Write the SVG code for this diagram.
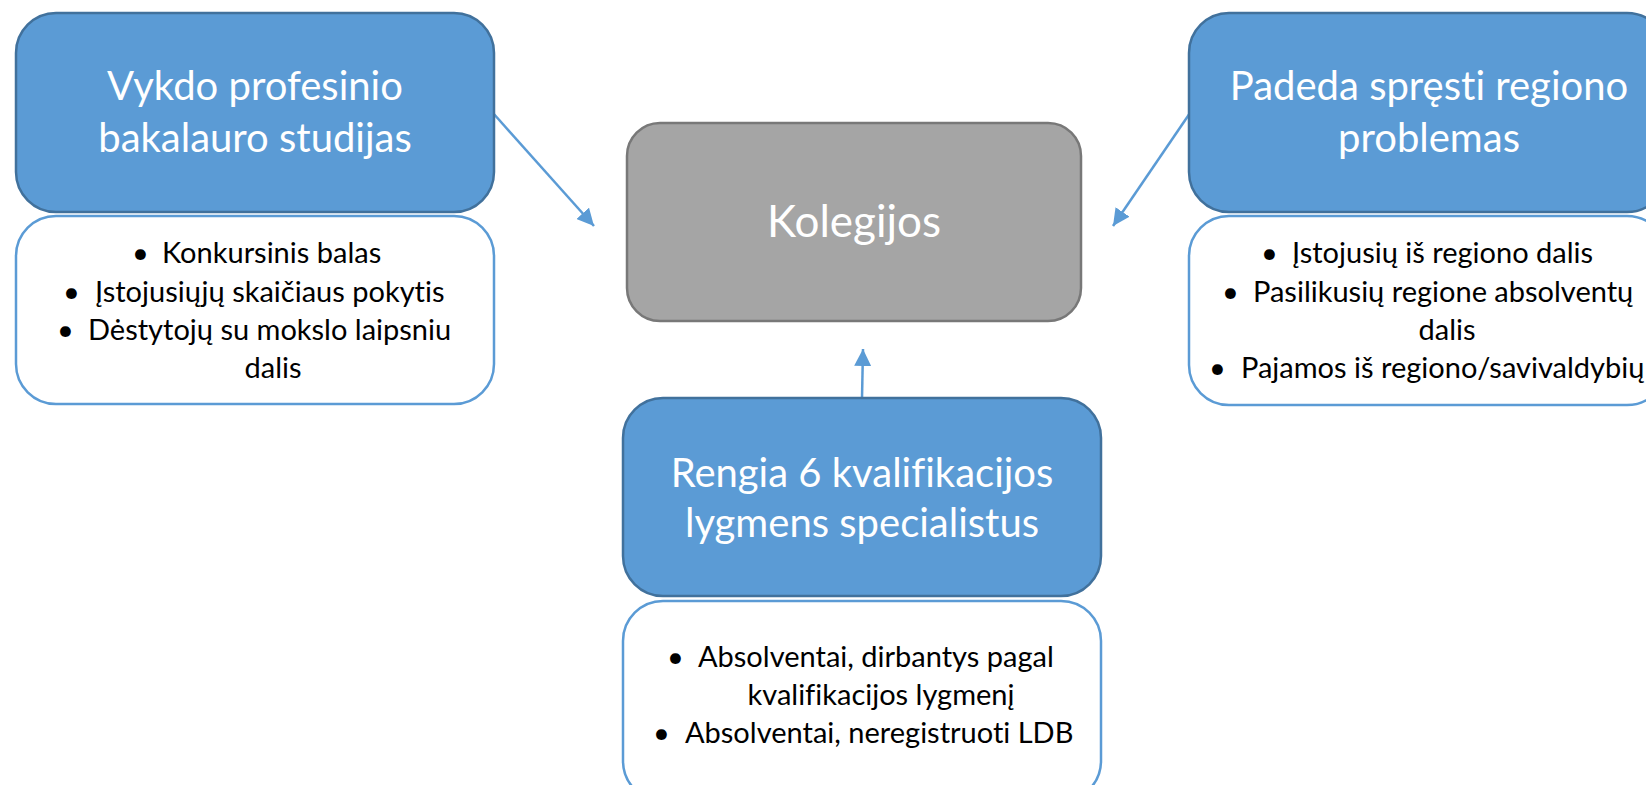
<svg xmlns="http://www.w3.org/2000/svg" width="1646" height="785" viewBox="0 0 1646 785">
<defs>
<style>
text{font-variant-ligatures:none;font-feature-settings:"liga" 0,"clig" 0}
.blue{fill:#5B9BD5;stroke:#41719C;stroke-width:2.5}
.white{fill:#FFFFFF;stroke:#5B9BD5;stroke-width:2.5}
.grey{fill:#A5A5A5;stroke:#787878;stroke-width:2.5}
.title{font-family:Lato,"Liberation Sans",sans-serif;font-size:40px;fill:#FFFFFF;text-anchor:middle}
.big{font-size:44px}
.item{font-family:Lato,"Liberation Sans",sans-serif;font-size:29px;fill:#000000}
.mid{text-anchor:middle}
.conn{stroke:#5B9BD5;stroke-width:2.5;fill:none;marker-end:url(#ah)}
</style>
<marker id="ah" viewBox="0 0 10 10" markerWidth="17" markerHeight="17" refX="10" refY="5" orient="auto" markerUnits="userSpaceOnUse">
<path d="M0,0 L10,5 L0,10 z" fill="#5B9BD5"/>
</marker>
</defs>
<rect width="1646" height="785" fill="#FFFFFF"/>
<g id="connectors">
<line class="conn" x1="493" y1="113" x2="594" y2="226"/>
<line class="conn" x1="1190" y1="113" x2="1113" y2="226"/>
<line class="conn" x1="862" y1="398" x2="863" y2="349"/>
</g>
<g id="node-kolegijos">
<rect class="grey" x="627" y="123" width="454" height="198" rx="33"/>
<text class="title big" x="854" y="237">Kolegijos</text>
</g>
<g id="node-vykdo">
<rect class="blue" x="16" y="13" width="478" height="199" rx="40"/>
<text class="title" x="255" y="100">Vykdo profesinio</text>
<text class="title" x="255" y="152">bakalauro studijas</text>
</g>
<g id="node-vykdo-list">
<rect class="white" x="16" y="216" width="478" height="188" rx="40"/>
<text class="item" x="132" y="263">•</text>
<text class="item" x="162" y="263">Konkursinis balas</text>
<text class="item" x="63" y="302">•</text>
<text class="item" x="95" y="302">Įstojusiųjų skaičiaus pokytis</text>
<text class="item" x="57" y="340">•</text>
<text class="item" x="88" y="340">Dėstytojų su mokslo laipsniu</text>
<text class="item mid" x="273" y="378">dalis</text>
</g>
<g id="node-padeda">
<rect class="blue" x="1189" y="13" width="478" height="199" rx="40"/>
<text class="title" x="1429" y="100">Padeda spręsti regiono</text>
<text class="title" x="1429" y="152">problemas</text>
</g>
<g id="node-padeda-list">
<rect class="white" x="1189" y="216" width="478" height="189" rx="40"/>
<text class="item" x="1261" y="263">•</text>
<text class="item" x="1292" y="263">Įstojusių iš regiono dalis</text>
<text class="item" x="1222" y="302">•</text>
<text class="item" x="1253" y="302">Pasilikusių regione absolventų</text>
<text class="item mid" x="1447" y="340">dalis</text>
<text class="item" x="1209" y="378">•</text>
<text class="item" x="1241" y="378">Pajamos iš regiono/savivaldybių</text>
</g>
<g id="node-rengia">
<rect class="blue" x="623" y="398" width="478" height="198" rx="40"/>
<text class="title" x="862" y="487">Rengia 6 kvalifikacijos</text>
<text class="title" x="862" y="537">lygmens specialistus</text>
</g>
<g id="node-rengia-list">
<rect class="white" x="623" y="601" width="478" height="200" rx="40"/>
<text class="item" x="667" y="667">•</text>
<text class="item" x="698" y="667">Absolventai, dirbantys pagal</text>
<text class="item mid" x="881" y="705">kvalifikacijos lygmenį</text>
<text class="item" x="653" y="743">•</text>
<text class="item" x="685" y="743">Absolventai, neregistruoti LDB</text>
</g>
</svg>
